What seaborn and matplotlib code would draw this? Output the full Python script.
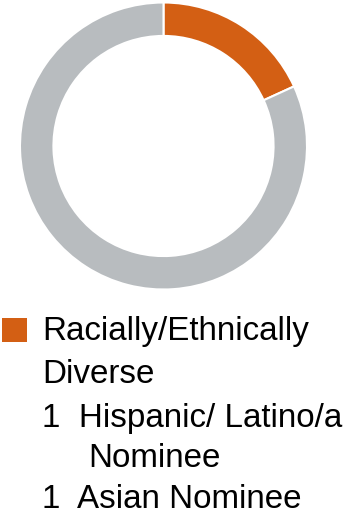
import matplotlib
matplotlib.use("Agg")
import matplotlib.pyplot as plt
import matplotlib.patches as mpatches
import seaborn as sns

categories = ["Racially/Ethnically Diverse", "Other"]
values = [2, 9]
colors = ["#D35F14", "#B8BCBF"]
legend_lines = ["Racially/Ethnically", "Diverse", "1  Hispanic/ Latino/a", "Nominee", "1  Asian Nominee"]

sns.set_theme(style="white")
plt.rcParams['font.family'] = ['Liberation Sans', 'DejaVu Sans']

W, H = 347, 520
fig = plt.figure(figsize=(W / 100, H / 100), dpi=100)
cx, cy, r = 163.5, 146, 143.5
ax = fig.add_axes([(cx - r) / W, 1 - (cy + r) / H, 2 * r / W, 2 * r / H])
ax.pie(values, colors=colors, startangle=90, counterclock=False, radius=1,
       wedgeprops=dict(width=0.233, edgecolor="white", linewidth=1.5))
ax.set_xlim(-1.0, 1.0)
ax.set_ylim(-1.0, 1.0)
ax.set_aspect("equal")
ax.axis("off")

# legend square
sq = mpatches.Rectangle((2 / W, 1 - 342 / H), 25 / W, 24 / H, transform=fig.transFigure,
                        facecolor=colors[0], edgecolor="none")
fig.patches.append(sq)

fs = 33.2 * 72 / 100
xs = [42, 42, 42, 88, 42]
ys = [340, 383, 427, 467, 508]
for txt, x, y in zip(legend_lines, xs, ys):
    fig.text(x / W, 1 - y / H, txt, fontsize=fs, va="baseline", ha="left", color="black")

fig.savefig("out.png", dpi=100)
